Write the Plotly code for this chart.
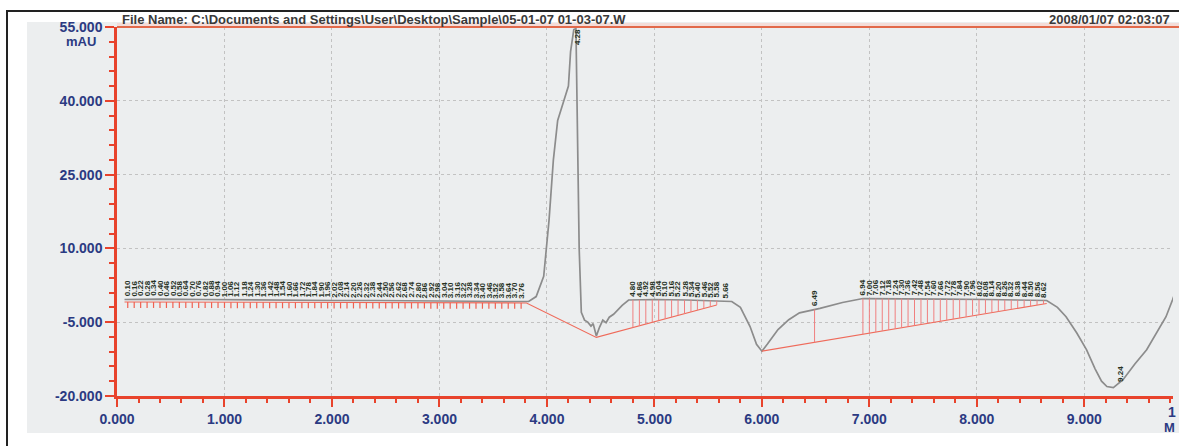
import numpy as np
import plotly.graph_objects as go

# ---- chromatogram trace (time in min, absorbance in mAU) ----
times = [0.07, 0.40, 0.80, 1.20, 1.60, 2.00, 2.40, 2.80, 3.20, 3.60, 3.83, 3.90, 3.97, 4.02,
         4.06, 4.10, 4.15, 4.20, 4.22, 4.25, 4.27, 4.285, 4.30, 4.32, 4.35, 4.38, 4.41, 4.43,
         4.46, 4.49, 4.52, 4.55, 4.58, 4.62, 4.66, 4.70, 4.76, 5.00, 5.30, 5.55, 5.72, 5.80,
         5.89, 5.95, 6.00, 6.05, 6.15, 6.25, 6.35, 6.54, 6.75, 6.94, 7.30, 7.70, 8.10, 8.45,
         8.65, 8.75, 8.83, 8.93, 9.02, 9.10, 9.16, 9.21, 9.27, 9.36, 9.47, 9.58, 9.68, 9.76,
         9.82, 9.86]
mau = [-0.4, -0.3, -0.4, -0.5, -0.5, -0.6, -0.6, -0.7, -0.7, -0.8, -0.8, 0.2, 4.3, 15.8,
       28.0, 36.0, 39.5, 43.0, 50.0, 54.5, 54.7, 35.0, 10.0, -3.0, -4.6, -5.0, -5.8, -5.3,
       -7.8, -6.0, -4.6, -5.1, -4.0, -3.4, -2.4, -1.6, -0.5, -0.4, -0.5, -0.6, -0.8, -2.0,
       -5.9, -9.5, -10.9, -9.5, -6.5, -4.5, -3.1, -2.2, -1.0, -0.2, -0.2, -0.3, -0.4, -0.5,
       -0.6, -2.0, -3.9, -7.2, -10.6, -14.5, -17.0, -18.1, -18.3, -16.7, -13.5, -10.6, -7.0,
       -3.9, -0.5, 2.0]

# ---- integration baselines ----
base1_t = [0.07, 3.81, 4.46, 5.58]
base1_v = [-0.9, -1.1, -8.1, -1.5]
base2_t = [6.00, 8.65]
base2_v = [-10.9, -1.2]

# ---- retention-time labels ----
lab1 = [0.10, 0.16, 0.22, 0.28, 0.34, 0.40, 0.46, 0.52, 0.58, 0.64, 0.70, 0.76, 0.82, 0.88,
        0.94, 1.00, 1.06, 1.12, 1.18, 1.24, 1.30, 1.36, 1.42, 1.48, 1.54, 1.60, 1.66, 1.72,
        1.78, 1.84, 1.90, 1.96, 2.02, 2.08, 2.14, 2.20, 2.26, 2.32, 2.38, 2.44, 2.50, 2.56,
        2.62, 2.68, 2.74, 2.80, 2.86, 2.92, 2.98, 3.04, 3.10, 3.16, 3.22, 3.28, 3.34, 3.40,
        3.46, 3.52, 3.58, 3.64, 3.70, 3.76]
lab2 = [4.80, 4.86, 4.92, 4.98, 5.04, 5.10, 5.16, 5.22, 5.28, 5.34, 5.40, 5.46, 5.52]
lab2b = [5.58, 5.66]
lab3 = [6.94, 7.00, 7.06, 7.12, 7.18, 7.24, 7.30, 7.36, 7.42, 7.48, 7.54, 7.60, 7.66, 7.72,
        7.78, 7.84, 7.90, 7.96, 8.02, 8.08, 8.14, 8.20, 8.26, 8.32, 8.38, 8.44, 8.50, 8.56,
        8.62]
peak_single = [6.49]
apex_label = 4.28
min_label = 9.24

x_ticks = [0, 1, 2, 3, 4, 5, 6, 7, 8, 9]
y_ticks = [-20, -5, 10, 25, 40, 55]

title_text = "File Name: C:\\Documents and Settings\\User\\Desktop\\Sample\\05-01-07 01-03-07.W"
date_text = "2008/01/07 02:03:07"

RED = "#e8432c"
NAVY = "#2b3a82"
BG = "#eceeef"
LABC = "#26321f"

def trace_at(t):
    return float(np.interp(t, times, mau))

def base_at(t, bt, bv):
    return float(np.interp(t, bt, bv))

fig = go.Figure()

# chromatogram
fig.add_trace(go.Scatter(x=times, y=mau, mode="lines",
                         line=dict(color="#8c8c8c", width=1.7), hoverinfo="skip"))

# baselines
fig.add_trace(go.Scatter(x=base1_t, y=base1_v, mode="lines",
                         line=dict(color="#ef6a5a", width=1.1), hoverinfo="skip"))
fig.add_trace(go.Scatter(x=base2_t, y=base2_v, mode="lines",
                         line=dict(color="#ef6a5a", width=1.1), hoverinfo="skip"))

# small tick marks in region 1
tx, ty = [], []
for t in lab1:
    b = base_at(t, base1_t, base1_v)
    tx += [t, t, None]
    ty += [b, b - 1.2, None]
fig.add_trace(go.Scatter(x=tx, y=ty, mode="lines",
                         line=dict(color="#f06050", width=1.2), hoverinfo="skip"))

# drop lines region 2 and 3
dx, dy = [], []
for t in lab2 + lab2b[:1]:
    dx += [t, t, None]
    dy += [trace_at(t), base_at(t, base1_t, base1_v), None]
for t in peak_single + lab3:
    dx += [t, t, None]
    dy += [trace_at(t), base_at(t, base2_t, base2_v), None]
fig.add_trace(go.Scatter(x=dx, y=dy, mode="lines",
                         line=dict(color="#f07f7f", width=1), hoverinfo="skip"))

annotations = []
def rt_label(t, y, size=8, yanchor="bottom"):
    annotations.append(dict(x=t, y=y, xref="x", yref="y", text=f"{t:.2f}",
                            textangle=-90, showarrow=False, xanchor="center",
                            yanchor=yanchor,
                            font=dict(size=size, color=LABC, family="Liberation Sans",
                                      weight="bold")))

for t in lab1 + lab2 + lab2b + lab3 + peak_single:
    rt_label(t, trace_at(t) + 0.2)
rt_label(apex_label, 55, yanchor="top")
annotations.append(dict(x=min_label + 0.03, y=trace_at(min_label) + 0.6, xref="x", yref="y",
                        text=f"{min_label:.2f}", textangle=-90, showarrow=False,
                        xanchor="left", yanchor="bottom",
                        font=dict(size=8, color=LABC, family="Liberation Sans", weight="bold")))

# header texts
annotations.append(dict(x=0.003, y=1.019, xref="paper", yref="paper", text=title_text,
                        showarrow=False, xanchor="left", yanchor="middle",
                        font=dict(size=13, color="#3a3a3a", family="Liberation Sans",
                                  weight="bold")))
annotations.append(dict(x=0.999, y=1.019, xref="paper", yref="paper", text=date_text,
                        showarrow=False, xanchor="right", yanchor="middle",
                        font=dict(size=13, color="#3a3a3a", family="Liberation Sans",
                                  weight="bold")))
# unit labels
annotations.append(dict(x=-0.018, y=0.962, xref="paper", yref="paper", text="mAU",
                        showarrow=False, xanchor="right", yanchor="middle",
                        font=dict(size=13, color=NAVY, family="Liberation Sans", weight="bold")))
annotations.append(dict(x=(1166 - 117) / 1056, y=-0.043, xref="paper", yref="paper", text="1",
                        showarrow=False, xanchor="left", yanchor="middle",
                        font=dict(size=14, color=NAVY, family="Liberation Sans", weight="bold")))
annotations.append(dict(x=(1162 - 117) / 1056, y=-0.085, xref="paper", yref="paper",
                        text="M", showarrow=False, xanchor="left", yanchor="middle",
                        font=dict(size=13, color=NAVY, family="Liberation Sans", weight="bold")))

def px_x(p):
    return (p - 117) / 1056
def px_y(p):
    return (396 - p) / 369

shapes = [
    # scanned paper area
    dict(type="rect", xref="paper", yref="paper", x0=px_x(27), x1=px_x(1190),
         y0=px_y(433), y1=px_y(22), fillcolor=BG, line=dict(width=0), layer="below"),
    # pink band at top
    dict(type="rect", xref="paper", yref="paper", x0=0, x1=1.01,
         y0=1.0, y1=px_y(23), fillcolor="#f4dcd8", line=dict(width=0), layer="below"),
    # outer black frame
    dict(type="rect", xref="paper", yref="paper", x0=px_x(7), x1=px_x(1195),
         y0=px_y(460), y1=px_y(11), fillcolor="rgba(0,0,0,0)",
         line=dict(color="#222222", width=2)),
    # top border line
    dict(type="line", xref="paper", yref="paper", x0=0, x1=1.01, y0=1.0, y1=1.0,
         line=dict(color="#e2694a", width=2)),
]

fig.update_layout(
    width=1179, height=446,
    margin=dict(l=117, r=6, t=27, b=50),
    paper_bgcolor="white", plot_bgcolor=BG,
    showlegend=False,
    annotations=annotations, shapes=shapes,
    xaxis=dict(range=[0, 9.825], tickvals=x_ticks,
               ticktext=[f"{v:.3f}" for v in x_ticks],
               showline=True, linecolor=RED, linewidth=2.5,
               ticks="outside", ticklen=8, tickwidth=2, tickcolor=RED,
               showgrid=True, gridcolor="#c2c2c2", griddash="dot", gridwidth=1.2,
               zeroline=False,
               minor=dict(dtick=0.2, tick0=0, ticks="outside", ticklen=4, tickwidth=1.5,
                          tickcolor=RED, showgrid=False),
               tickfont=dict(size=14, color=NAVY, family="Liberation Sans", weight="bold")),
    yaxis=dict(range=[-20.02, 55.02], tickvals=y_ticks,
               ticktext=[f"{v:.3f}" for v in y_ticks],
               showline=True, linecolor=RED, linewidth=2.5,
               ticks="outside", ticklen=9, tickwidth=2, tickcolor=RED,
               showgrid=True, gridcolor="#c2c2c2", griddash="dot", gridwidth=1.2,
               zeroline=False,
               minor=dict(dtick=3, tick0=-20, ticks="outside", ticklen=5, tickwidth=1.5,
                          tickcolor=RED, showgrid=False),
               tickfont=dict(size=14, color=NAVY, family="Liberation Sans", weight="bold")),
)

fig.write_html("out.html", config={"displayModeBar": False},
               post_script="document.body.style.margin='0';")
